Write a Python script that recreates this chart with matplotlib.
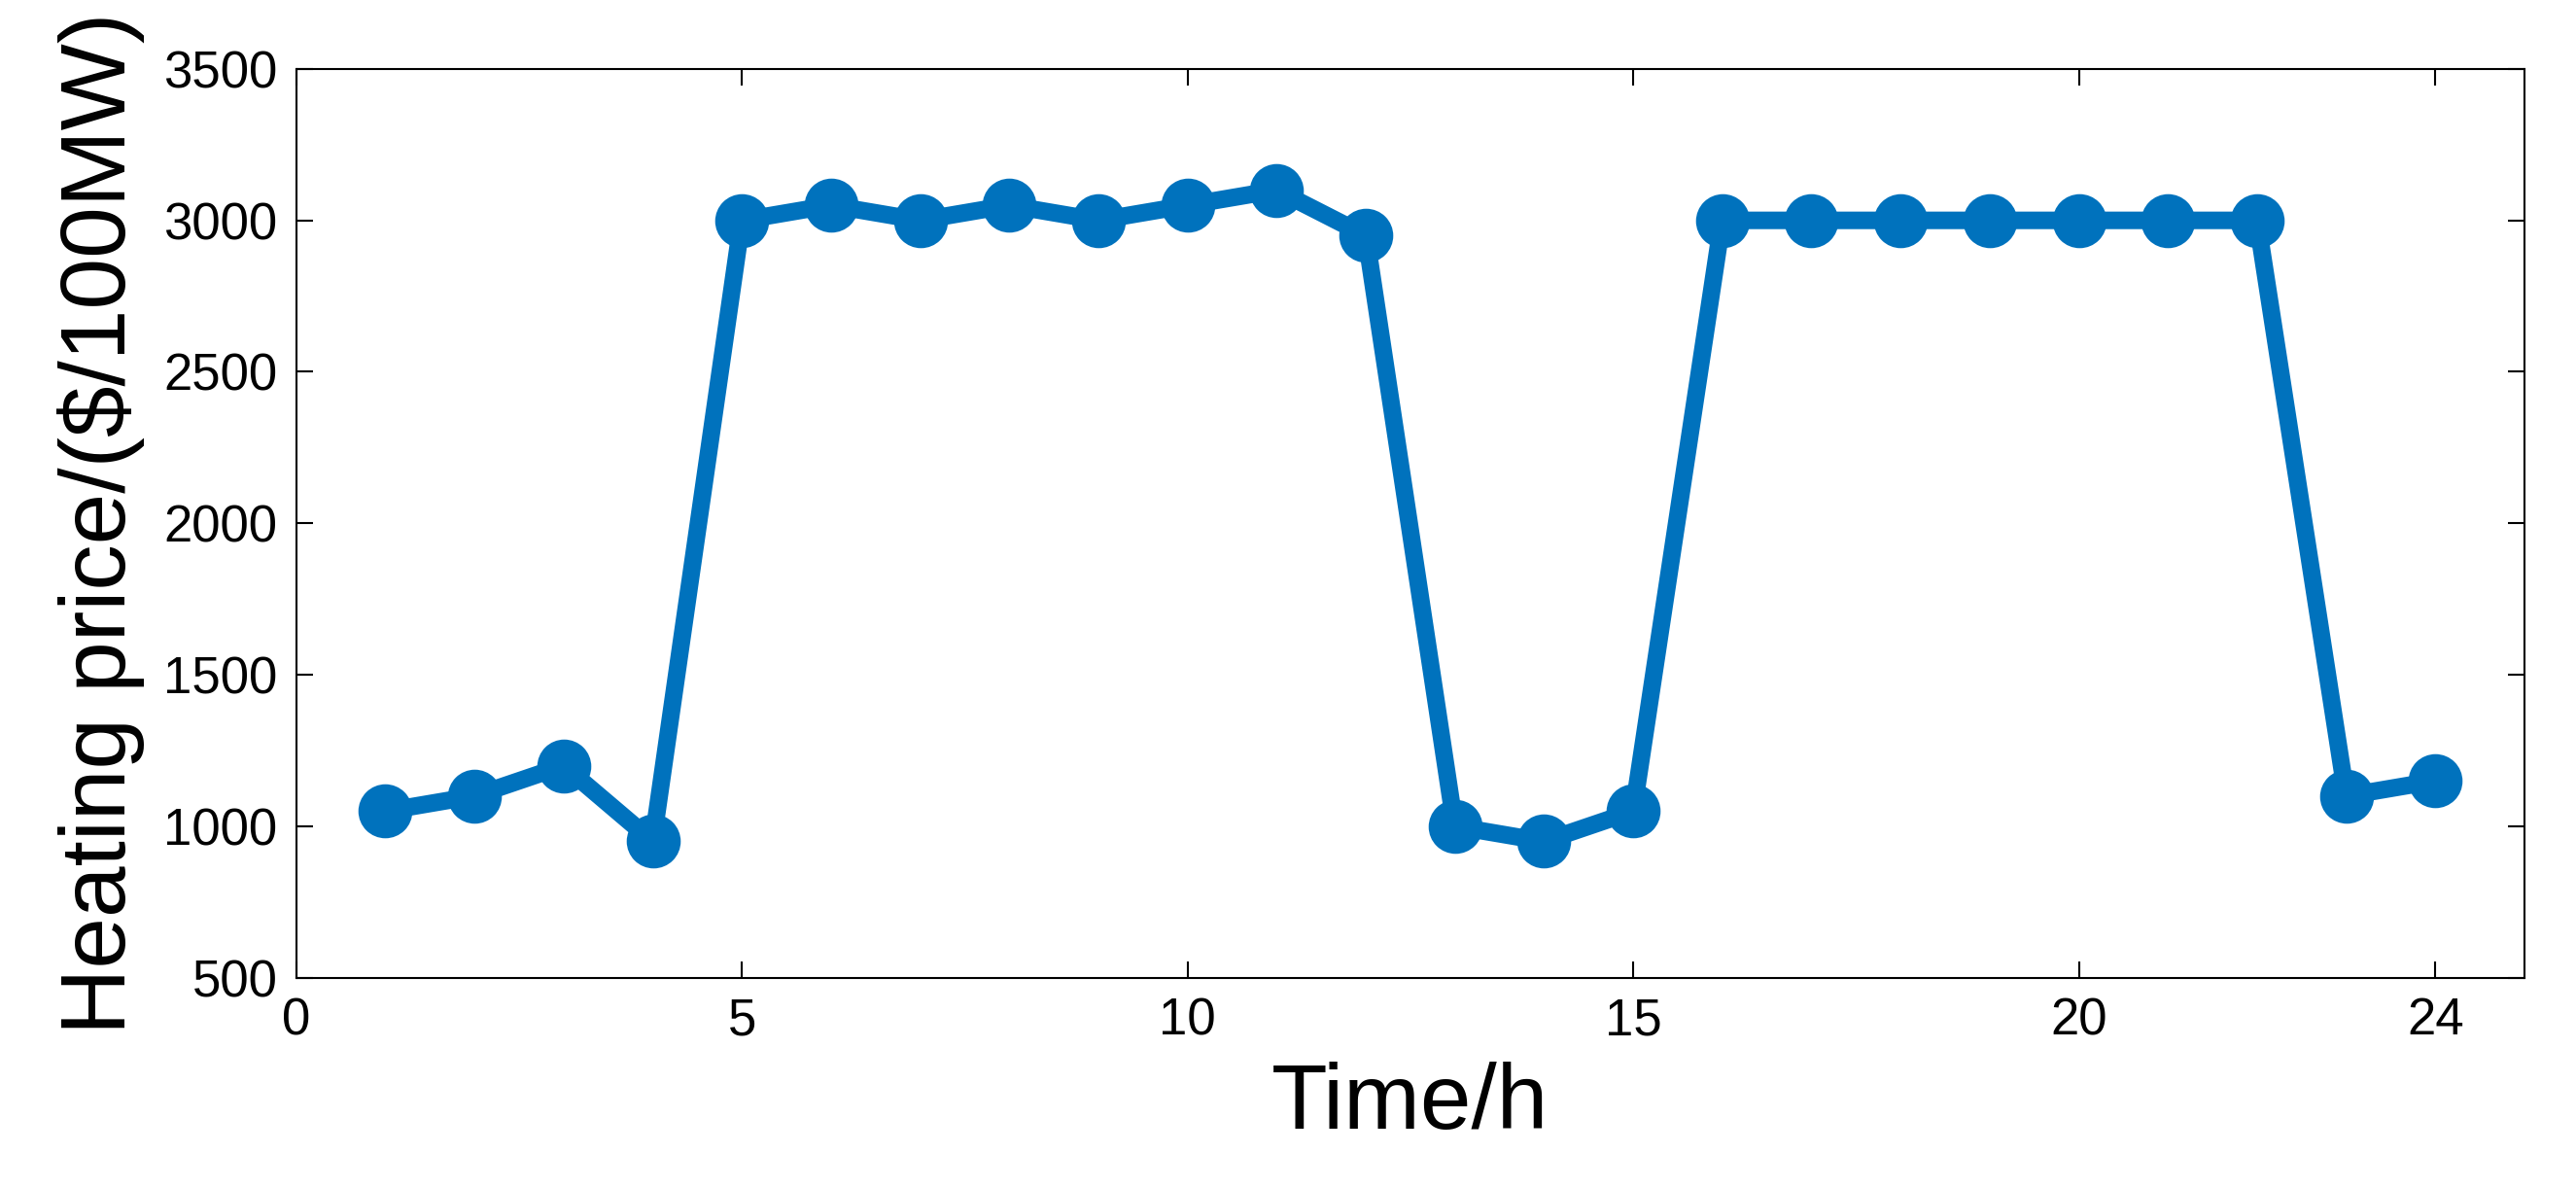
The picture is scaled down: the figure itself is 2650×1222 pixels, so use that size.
import matplotlib
matplotlib.use("Agg")
import matplotlib.pyplot as plt

hours = list(range(1, 25))
price = [1050, 1100, 1200, 950, 3000, 3050, 3000, 3050, 3000, 3050, 3100, 2950,
         1000, 950, 1050, 3000, 3000, 3000, 3000, 3000, 3000, 3000, 1100, 1150]
xticks = [0, 5, 10, 15, 20, 24]
yticks = [500, 1000, 1500, 2000, 2500, 3000, 3500]

plt.rcParams['font.family'] = ['Arial', 'Liberation Sans', 'DejaVu Sans']
fig = plt.figure(figsize=(26.5, 12.22), dpi=100)
ax = fig.add_axes([0.115, 0.177, 0.865, 0.765])
c = '#0072BD'
ax.plot(hours, price, color=c, lw=13, marker='o', ms=36, mfc=c, mec=c, mew=4)
ax.set_xlim(0, 25)
ax.set_ylim(500, 3500)
ax.set_xticks(xticks)
ax.set_yticks(yticks)
ax.tick_params(labelsize=38, direction='in', length=12, width=1.5, top=True, right=True, pad=14)
for s in ax.spines.values():
    s.set_linewidth(1.5)
ax.set_xlabel('Time/h', fontsize=68, labelpad=12)
ax.set_ylabel('Heating price/($/100MW)', fontsize=68, labelpad=14)
fig.savefig('out.png', dpi=100)
